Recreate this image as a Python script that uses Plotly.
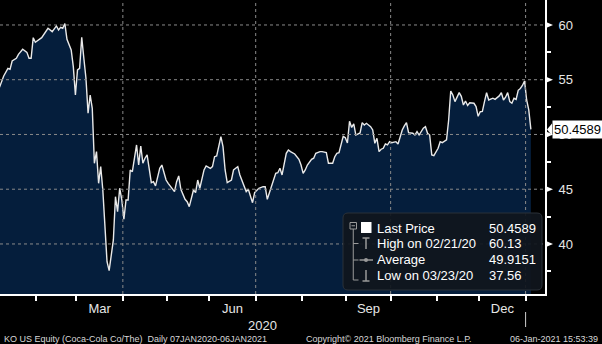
import pandas as pd
import plotly.graph_objects as go

# KO US Equity daily closes, keyed by trading-session number (0 = 07-Jan-2020)
session = [0, 1, 2, 4, 5, 6, 8, 9, 11, 13, 14, 15, 16, 17, 19, 20, 23, 24, 25, 27,
           28, 29, 30, 31, 32, 34, 35, 36, 37, 38, 39, 40, 41, 42, 43, 44, 45, 46, 47, 48,
           49, 51, 52, 54, 55, 56, 57, 58, 59, 60, 61, 62, 63, 65, 66, 67, 68, 69, 70, 72,
           73, 74, 76, 77, 79, 80, 82, 83, 84, 85, 86, 88, 89, 90, 92, 93, 94, 95, 97, 98,
           100, 101, 102, 103, 105, 106, 107, 108, 110, 111, 112, 113, 114, 115, 116, 117, 118, 120, 121, 122,
           123, 125, 126, 127, 129, 130, 131, 132, 133, 134, 135, 136, 137, 138, 140, 142, 143, 144, 145, 146,
           148, 149, 150, 152, 153, 155, 156, 158, 159, 160, 161, 163, 164, 165, 166, 167, 168, 169, 171, 172,
           173, 174, 176, 177, 178, 179, 180, 181, 182, 183, 184, 185, 186, 188, 189, 190, 191, 192, 193, 194,
           196, 197, 198, 199, 201, 202, 203, 204, 205, 206, 208, 209, 210, 212, 213, 214, 215, 216, 218, 219,
           220, 221, 222, 223, 224, 225, 226, 227, 228, 229, 230, 231, 232, 233, 234, 235, 236, 237, 238, 239,
           240, 241, 242, 243, 244, 245, 246, 247, 248, 249, 250, 251, 252]
close = [54.31, 54.82, 55.34, 56.04, 55.95, 56.71, 56.96, 57.32, 57.78, 57.50, 56.96, 56.96, 58.84, 58.42, 58.69, 58.84, 59.70, 59.54, 59.39, 59.91,
         59.54, 59.79, 59.70, 60.13, 58.69, 57.72, 56.19, 53.60, 55.89, 56.04, 58.87, 56.96, 55.13, 51.94, 53.60, 52.39, 47.37, 48.43, 45.54, 47.06,
         44.93, 38.38, 37.56, 40.37, 44.32, 42.95, 45.09, 44.02, 42.26, 44.02, 44.02, 46.76, 46.60, 49.04, 47.21, 48.95, 47.37, 47.83, 48.13, 45.60,
         45.69, 45.30, 46.91, 47.21, 45.84, 45.54, 45.09, 44.78, 45.69, 46.21, 44.99, 44.08, 43.86, 43.41, 44.93, 44.69, 45.84, 45.09, 46.76, 47.12,
         46.91, 47.06, 47.97, 48.04, 49.80, 48.89, 46.76, 45.60, 45.84, 46.76, 46.91, 47.06, 46.30, 45.84, 45.30, 44.78, 45.00, 43.77, 44.69, 44.93,
         45.09, 45.23, 45.23, 44.08, 45.23, 45.84, 46.45, 46.51, 46.91, 46.30, 47.37, 48.28, 48.58, 48.43, 48.22, 47.73, 47.21, 46.45, 46.76, 47.21,
         47.73, 47.83, 48.28, 48.43, 48.43, 48.34, 47.37, 47.37, 47.97, 48.28, 48.34, 49.83, 49.70, 49.22, 51.20, 50.64, 50.97, 49.95, 50.14, 51.08,
         50.87, 51.02, 50.71, 50.41, 49.19, 49.65, 48.43, 48.65, 48.74, 49.13, 49.04, 49.34, 49.25, 49.34, 49.13, 49.80, 50.41, 50.78, 51.08, 50.17,
         50.11, 49.95, 50.26, 49.95, 50.57, 50.71, 50.11, 49.95, 48.13, 48.06, 48.74, 49.34, 49.25, 49.50, 51.30, 53.97, 53.60, 53.00, 53.82, 53.48,
         52.69, 53.05, 52.65, 52.90, 52.90, 52.85, 52.55, 51.66, 52.08, 52.10, 53.00, 53.82, 53.15, 53.21, 53.31, 53.21, 53.40, 53.52, 53.82, 53.15,
         53.40, 53.82, 53.00, 52.85, 53.30, 53.20, 54.03, 54.20, 54.47, 54.89, 53.15, 52.24, 50.4589]

last_price = 50.4589
high_price, high_date = 60.13, "02/21/20"
avg_price = 49.9151
low_price, low_date = 37.56, "03/23/20"

y_major = [40, 45, 50, 55, 60]
y_minor = [37.5, 42.5, 47.5, 52.5, 57.5]
month_labels = {3: "Mar", 6: "Jun", 9: "Sep", 12: "Dec"}

# NYSE trading calendar for the window
holidays = ["2020-01-20", "2020-02-17", "2020-04-10", "2020-05-25", "2020-07-03",
            "2020-09-07", "2020-11-26", "2020-12-25", "2021-01-01"]
days = pd.bdate_range("2020-01-07", "2021-01-06", freq="C", holidays=holidays)

# month boundaries sit half a session before the first session of each month
boundaries, firsts = [], []
for i in range(1, len(days)):
    if days[i].month != days[i - 1].month:
        boundaries.append(i - 0.5)
        firsts.append(days[i])
quarter_lines = [b for b, d in zip(boundaries, firsts) if d.month in (1, 4, 7, 10)]
year_line = [b for b, d in zip(boundaries, firsts) if d.month == 1][0]

lab_vals, lab_text = [], []
for k, (b, d) in enumerate(zip(boundaries, firsts)):
    if d.month in month_labels and k + 1 < len(boundaries):
        lab_vals.append((b + boundaries[k + 1]) / 2)
        lab_text.append(month_labels[d.month])

X0, X1 = 0.24, 258.7
Y0, Y1 = 35.43, 62.28
W, H = 602, 344
ML, MR, MT, MB = 0, 57, 0, 50
PW, PH = W - ML - MR, H - MT - MB

REG = "Liberation Sans, Arial, sans-serif"
GRID = "#8a8a8a"
ICON = "#9a9a9a"


def px(x):
    return x / PW


def py(y):
    return 1 - y / PH


fig = go.Figure()
fig.add_trace(go.Scatter(
    x=session, y=close, mode="lines",
    line=dict(color="#e9e9e9", width=1.4),
    fill="tozeroy", fillcolor="#051e3c",
    hoverinfo="x+y", showlegend=False,
))

shapes = []
for v in y_major:
    shapes.append(dict(type="line", xref="paper", yref="y", x0=0, x1=1, y0=v, y1=v,
                       line=dict(color=GRID, width=1, dash="3px,3px"), layer="above"))
    shapes.append(dict(type="path", xref="paper", yref="y", xsizemode="pixel", ysizemode="pixel",
                       xanchor=1, yanchor=v, path="M 1,-3 L 8,0 L 1,3 Z",
                       fillcolor="white", line=dict(width=0)))
for b in quarter_lines:
    shapes.append(dict(type="line", xref="x", yref="paper", x0=b, x1=b, y0=0, y1=1,
                       line=dict(color=GRID, width=1, dash="3px,3px"), layer="above"))
# year separator below the axis
shapes.append(dict(type="line", xref="x", yref="paper", x0=year_line, x1=year_line,
                   y0=py(312), y1=py(327), line=dict(color="#cfcfcf", width=1)))

# last-price pointer
shapes.append(dict(type="path", xref="paper", yref="y", xsizemode="pixel", ysizemode="pixel",
                   xanchor=1, yanchor=last_price, path="M 2,0 L 7,-6 L 7,6 Z",
                   fillcolor="white", line=dict(width=0)))


def rounded(x0, y0, x1, y1, r):
    return (f"M {px(x0 + r)},{py(y0)} L {px(x1 - r)},{py(y0)} Q {px(x1)},{py(y0)} {px(x1)},{py(y0 + r)} "
            f"L {px(x1)},{py(y1 - r)} Q {px(x1)},{py(y1)} {px(x1 - r)},{py(y1)} "
            f"L {px(x0 + r)},{py(y1)} Q {px(x0)},{py(y1)} {px(x0)},{py(y1 - r)} "
            f"L {px(x0)},{py(y0 + r)} Q {px(x0)},{py(y0)} {px(x0 + r)},{py(y0)} Z")


# legend panel
shapes.append(dict(type="path", xref="paper", yref="paper", path=rounded(343, 213, 542, 290, 5),
                   fillcolor="rgba(16,22,29,0.93)", line=dict(color="#2b3138", width=1), layer="above"))


def seg(x0, y0, x1, y1, color=ICON, width=1):
    return dict(type="line", xref="paper", yref="paper", x0=px(x0), y0=py(y0), x1=px(x1), y1=py(y1),
                line=dict(color=color, width=width), layer="above")


# tree connector
shapes.append(dict(type="rect", xref="paper", yref="paper", x0=px(350), x1=px(356.5), y0=py(222.5), y1=py(229),
                   line=dict(color=ICON, width=1), fillcolor="rgba(0,0,0,0)", layer="above"))
shapes.append(seg(351.5, 225.75, 355, 225.75))
shapes.append(seg(353.25, 229, 353.25, 280))
for yy in (243.5, 260, 280):
    shapes.append(seg(353.25, yy, 358.5, yy))
# series swatch
shapes.append(dict(type="rect", xref="paper", yref="paper", x0=px(361), x1=px(371.5), y0=py(222), y1=py(233),
                   fillcolor="white", line=dict(width=0), layer="above"))
# high marker
shapes.append(seg(366, 238, 366, 249, width=1.5))
shapes.append(seg(362.5, 238, 369.5, 238, width=1.5))
# average marker
shapes.append(seg(359.5, 260, 373, 260, width=1.5))
shapes.append(dict(type="circle", xref="paper", yref="paper", x0=px(364), x1=px(368), y0=py(258), y1=py(262),
                   fillcolor=ICON, line=dict(width=0), layer="above"))
# low marker
shapes.append(seg(366, 270, 366, 281, width=1.5))
shapes.append(seg(362.5, 281, 369.5, 281, width=1.5))

annotations = []
rows = [("Last Price", f"{last_price:.4f}", 228.3),
        (f"High on {high_date}", f"{high_price:.2f}", 243.5),
        ("Average", f"{avg_price:.4f}", 259.8),
        (f"Low on {low_date}", f"{low_price:.2f}", 275.5)]
for name, val, yy in rows:
    annotations.append(dict(xref="paper", yref="paper", x=px(375), y=py(yy), text=name, showarrow=False,
                            xanchor="left", yanchor="middle", font=dict(family=REG, size=13, color="white")))
    annotations.append(dict(xref="paper", yref="paper", x=px(487), y=py(yy), text=val, showarrow=False,
                            xanchor="left", yanchor="middle", font=dict(family=REG, size=13, color="white")))

# last price tag
annotations.append(dict(xref="paper", yref="y", x=px(552), y=last_price, text=f"{last_price:.4f}",
                        showarrow=False, xanchor="left", yanchor="middle", bgcolor="white", borderpad=1,
                        font=dict(family=REG, size=13, color="black")))

# year label centred on the 2020 part of the axis
annotations.append(dict(xref="x", yref="paper", x=(X0 + year_line) / 2, y=py(325), text="2020",
                        showarrow=False, xanchor="center", yanchor="middle",
                        font=dict(family=REG, size=13, color="#e6e6e6")))

# footer
foot = dict(family=REG, size=9, color="#d8d8d8")
annotations.append(dict(xref="paper", yref="paper", x=px(2), y=py(339),
                        text="KO US Equity (Coca-Cola Co/The)  Daily 07JAN2020-06JAN2021",
                        showarrow=False, xanchor="left", yanchor="middle", font=foot))
annotations.append(dict(xref="paper", yref="paper", x=px(304), y=py(339),
                        text="Copyright\u00a9 2021 Bloomberg Finance L.P.",
                        showarrow=False, xanchor="left", yanchor="middle", font=foot))
annotations.append(dict(xref="paper", yref="paper", x=px(600), y=py(339),
                        text="06-Jan-2021 15:53:39",
                        showarrow=False, xanchor="right", yanchor="middle", font=foot))

fig.update_layout(
    width=W, height=H,
    margin=dict(l=ML, r=MR, t=MT, b=MB, pad=0),
    paper_bgcolor="black", plot_bgcolor="black",
    showlegend=False,
    shapes=shapes, annotations=annotations,
    xaxis=dict(range=[X0, X1], showgrid=False, zeroline=False,
               showline=True, linecolor="white", linewidth=2,
               tickmode="array", tickvals=lab_vals, ticktext=lab_text, ticks="",
               ticklabelstandoff=1,
               tickfont=dict(family=REG, size=13, color="#e6e6e6"),
               minor=dict(tickmode="array", tickvals=boundaries, ticks="outside",
                          ticklen=5, tickwidth=1.5, tickcolor="white", showgrid=False)),
    yaxis=dict(range=[Y0, Y1], side="right", showgrid=False, zeroline=False,
               showline=True, linecolor="white", linewidth=2,
               tickmode="array", tickvals=y_major, ticktext=[str(v) for v in y_major], ticks="",
               ticklabelstandoff=9,
               tickfont=dict(family=REG, size=13, color="#e6e6e6"),
               minor=dict(tickmode="array", tickvals=y_minor, ticks="outside",
                          ticklen=4, tickwidth=1.5, tickcolor="white", showgrid=False)),
)

fig.write_html("out.html")
